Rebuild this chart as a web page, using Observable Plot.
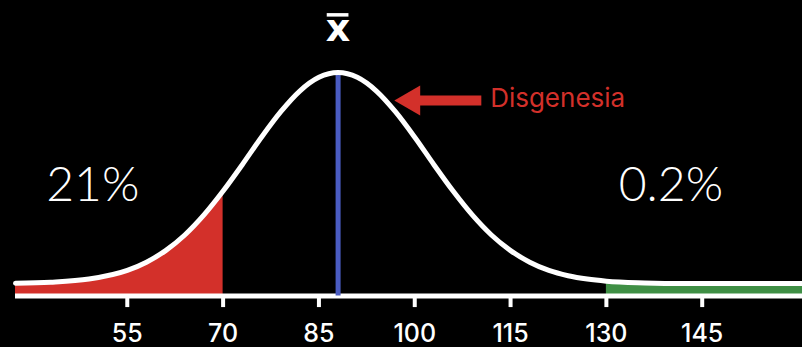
<!DOCTYPE html>
<html>
<head>
<meta charset="utf-8">
<script src="https://cdn.jsdelivr.net/npm/d3@7"></script>
<script src="https://cdn.jsdelivr.net/npm/@observablehq/plot@0.6"></script>
<style>
  html, body { margin: 0; padding: 0; background: #000; }
  #chart svg { display: block; }
</style>
</head>
<body>
<div id="chart"></div>
<script>
// IQ values along the axis and curve height (peak = 100)
const curveX = [37.5, 43, 49, 55, 58, 61, 64, 67, 70, 73, 76, 79, 82, 85, 88, 91, 94, 97, 100, 103, 106, 109, 112, 115, 118, 121, 124, 127, 130, 136, 142, 150, 160.7];
const curveH = [0.1, 0.6, 2.1, 6.2, 10.1, 15.6, 23.0, 32.5, 43.8, 56.3, 69.3, 81.3, 91.2, 97.7, 100, 97.7, 91.2, 81.3, 69.3, 56.3, 43.8, 32.5, 23.0, 15.6, 10.1, 6.2, 3.7, 2.1, 1.1, 0.3, 0, 0, 0];
const tickValues = [55, 70, 85, 100, 115, 130, 145];
const meanValue = 88;
const lowCut = 70;
const highCut = 130;
const lowShare = "21%";
const highShare = "0.2%";
const arrowLabel = "Disgenesia";
const meanLabel = "x";

const curve = curveX.map((x, i) => ({x, h: curveH[i]}));
const base = -5.9;

const RED = "#d3302a";
const GREEN = "#3f8f45";
const BLUE = "#4a5cc2";

const chart = Plot.plot({
  width: 802,
  height: 347,
  marginLeft: 15,
  marginRight: 0,
  marginTop: 0,
  marginBottom: 49,
  x: {domain: [37.5, 160.7], axis: null},
  y: {domain: [-7.1, 134.1], axis: null},
  style: {background: "#000", color: "#fff", fontFamily: "Inter, sans-serif"},
  marks: [
    Plot.areaY(curve.filter(d => d.x <= lowCut), {x: "x", y1: base, y2: "h", fill: RED, curve: "monotone-x"}),
    Plot.areaY(curve.filter(d => d.x >= highCut), {x: "x", y1: base, y2: "h", fill: GREEN, curve: "monotone-x"}),
    Plot.ruleY([base], {stroke: "#fff", strokeWidth: 5}),
    Plot.ruleX(tickValues, {y1: -7.1, y2: -11.4, stroke: "#fff", strokeWidth: 4}),
    Plot.text(tickValues, {x: d => d, y: -11.4, dy: 17, lineAnchor: "top", text: d => String(d), fill: "#fff", fontSize: 25, fontWeight: 500}),
    Plot.ruleX([meanValue], {y1: base, y2: 100, stroke: BLUE, strokeWidth: 5}),
    Plot.line(curve, {x: "x", y: "h", stroke: "#fff", strokeWidth: 5, curve: "monotone-x"}),
    // annotations
    Plot.text([meanLabel], {x: meanValue, y: 120.7, text: d => d, fill: "#fff", fontSize: 38, fontWeight: "bold", fontFamily: "DejaVu Sans", textAnchor: "middle"}),
    Plot.ruleY([127.3], {x1: meanValue - 1.7, x2: meanValue + 1.7, stroke: "#fff", strokeWidth: 3.5}),
    Plot.ruleY([86.7], {x1: 100.85, x2: 110.5, stroke: RED, strokeWidth: 10}),
    Plot.dot([0], {x: 99.5, y: 86.7, symbol: "triangle", r: 11.1, rotate: -90, fill: RED, stroke: null}),
    Plot.text([arrowLabel], {x: 111.8, y: 87.4, text: d => d, fill: RED, fontSize: 26, textAnchor: "start"}),
    Plot.text([lowShare], {x: 49.6, y: 46.2, text: d => d, fill: "#fff", fontSize: 48, fontWeight: 300, fontFamily: "Lato, sans-serif", textAnchor: "middle"}),
    Plot.text([highShare], {x: 140.1, y: 46.2, text: d => d, fill: "#fff", fontSize: 48, fontWeight: 300, fontFamily: "Lato, sans-serif", textAnchor: "middle"})
  ]
});
document.getElementById("chart").appendChild(chart);
</script>
</body>
</html>
